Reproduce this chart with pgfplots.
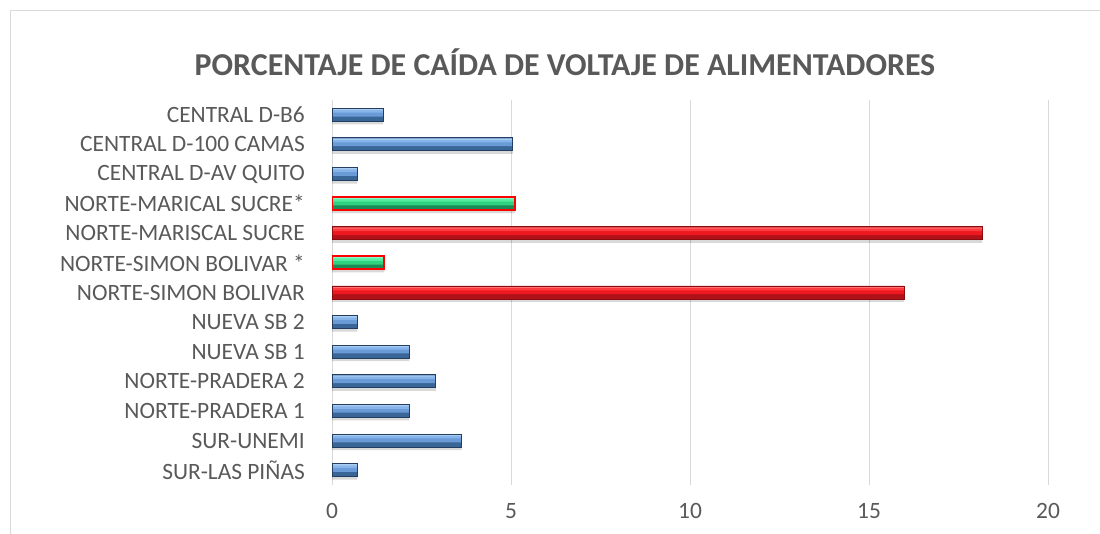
\documentclass[border=0pt]{standalone}
\usepackage{pgfplots}
\usepackage{pgfplotstable}
\pgfplotsset{compat=1.18}
\usepackage{fontspec}
\setmainfont{Carlito}
\definecolor{txt}{HTML}{595959}
\definecolor{gridc}{HTML}{D9D9D9}
\definecolor{blueT}{HTML}{A9CCF2}
\definecolor{blueU}{HTML}{86B3EA}
\definecolor{blueM}{HTML}{6A9BD6}
\definecolor{blueB}{HTML}{3A6597}
\definecolor{blueD}{HTML}{223F62}
\definecolor{redT}{HTML}{FF7070}
\definecolor{redU}{HTML}{FF3B40}
\definecolor{redM}{HTML}{EE1820}
\definecolor{redB}{HTML}{B01218}
\definecolor{redD}{HTML}{8A0A0E}
\definecolor{grnT}{HTML}{8AF7C2}
\definecolor{grnU}{HTML}{52EDA0}
\definecolor{grnM}{HTML}{2ED27F}
\definecolor{grnB}{HTML}{1C8A57}
\pgfplotstableread{
v y
0.71 0
3.62 1
2.16 2
2.90 3
2.16 4
0.71 5
0.71 10
5.05 11
1.43 12
}\blue
\pgfplotstableread{
v y
15.98 6
18.16 8
}\red
\pgfplotstableread{
v y
1.46 7
5.11 9
}\green
\pgfplotsset{
  bbase/.style={xbar, bar shift=0pt, bar width=13bp, draw=none, fill=#1},
  bmid/.style={xbar, bar shift=1.5bp, bar width=6.5bp, draw=none, fill=#1},
  bup/.style={xbar, bar shift=3.6bp, bar width=3bp, draw=none, fill=#1},
  btop/.style={xbar, bar shift=5.3bp, bar width=1.4bp, draw=none, fill=#1},
  bline/.style={xbar, bar shift=0pt, bar width=13bp, fill=none, draw=#1},
  bshadow/.style={xbar, bar shift=-3bp, bar width=13bp, draw=none, fill=black, opacity=0.15},
}
\begin{document}
\begin{tikzpicture}
\path[use as bounding box] (0,0) rectangle (1100bp,534bp);
\draw[gridc, line width=1bp] (10.5bp,0) -- (10.5bp,523bp) -- (1100bp,523bp);
\node[font=\bfseries\fontsize{32}{36}\selectfont, text=txt] at (565bp,472bp) {PORCENTAJE DE CAÍDA DE VOLTAJE DE ALIMENTADORES};
\begin{axis}[
  at={(332bp,49bp)}, anchor=south west,
  scale only axis, width=716bp, height=385bp,
  xmin=0, xmax=20, ymin=-0.5, ymax=12.5,
  xbar,
  xtick={0,5,10,15,20},
  ytick={0,...,12},
  yticklabels={SUR-LAS PIÑAS,SUR-UNEMI,NORTE-PRADERA 1,NORTE-PRADERA 2,NUEVA SB 1,NUEVA SB 2,NORTE-SIMON BOLIVAR,NORTE-SIMON BOLIVAR *,NORTE-MARISCAL SUCRE,NORTE-MARICAL SUCRE*,CENTRAL D-AV QUITO,CENTRAL D-100 CAMAS,CENTRAL D-B6},
  xmajorgrids, grid style={draw=gridc, line width=1bp},
  axis line style={draw=none},
  major tick length=0pt,
  /pgf/number format/assume math mode=true,
  tick label style={font=\fontsize{23.5}{26}\selectfont, text=txt, inner sep=0pt},
  yticklabel style={xshift=-27bp},
  xticklabel style={yshift=-18bp},
]
% shadows
\addplot[bshadow] table[x=v,y=y] {\blue};
\addplot[bshadow] table[x=v,y=y] {\red};
\addplot[bshadow] table[x=v,y=y] {\green};
% blue
\addplot[bbase=blueB] table[x=v,y=y] {\blue};
\addplot[bmid=blueM] table[x=v,y=y] {\blue};
\addplot[bup=blueU] table[x=v,y=y] {\blue};
\addplot[btop=blueT] table[x=v,y=y] {\blue};
\addplot[bline=blueD, line width=0.9bp] table[x=v,y=y] {\blue};
% red
\addplot[bbase=redB] table[x=v,y=y] {\red};
\addplot[bmid=redM] table[x=v,y=y] {\red};
\addplot[bup=redU] table[x=v,y=y] {\red};
\addplot[btop=redT] table[x=v,y=y] {\red};
\addplot[bline=redD, line width=0.9bp] table[x=v,y=y] {\red};
% green with red border
\addplot[bbase=grnB] table[x=v,y=y] {\green};
\addplot[bmid=grnM] table[x=v,y=y] {\green};
\addplot[bup=grnU] table[x=v,y=y] {\green};
\addplot[btop=grnT] table[x=v,y=y] {\green};
\addplot[bline=red, line width=1.8bp] table[x=v,y=y] {\green};
\end{axis}
\end{tikzpicture}
\end{document}
